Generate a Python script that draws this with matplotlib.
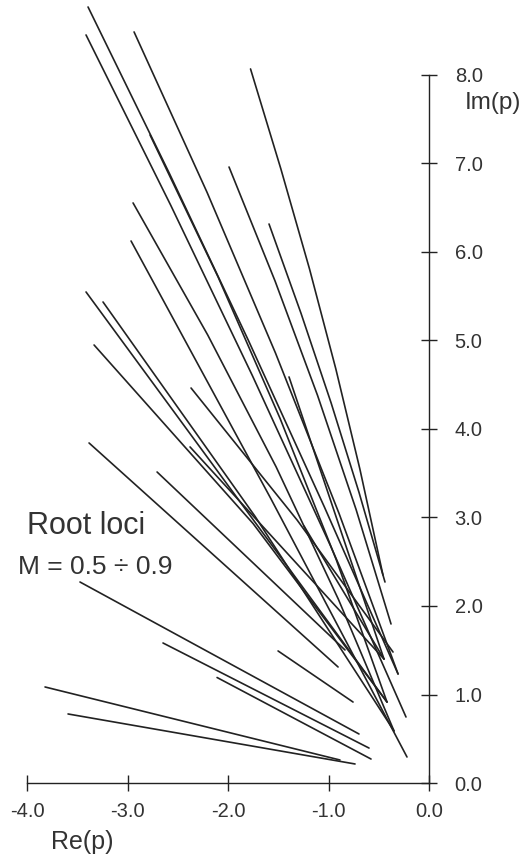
import matplotlib
matplotlib.use("Agg")
import matplotlib.pyplot as plt
import numpy as np

plt.rcParams['font.family'] = ['Liberation Sans', 'DejaVu Sans']

# Root loci traced as (Re, Im) points, one list per locus
re_loci = [
    [-1.776, -1.474, -1.189, -0.927, -0.688, -0.458],
    [-1.592, -1.273, -0.974, -0.696, -0.438],
    [-1.990, -1.531, -1.109, -0.725, -0.378],
    [-2.935, -2.208, -1.528, -0.895, -0.308],
    [-3.393, -2.582, -1.797, -1.040, -0.308],
    [-2.776, -2.100, -1.482, -0.921, -0.418],
    [-3.413, -2.569, -1.756, -0.977, -0.229],
    [-2.945, -2.202, -1.521, -0.903, -0.348],
    [-2.965, -1.572, -0.219],
    [-1.393, -0.448],
    [-1.244, -0.448],
    [-2.368, -1.313, -0.358],
    [-3.413, -0.418],
    [-3.244, -1.730, -0.348],
    [-3.333, -1.751, -0.418],
    [-2.378, -0.448],
    [-3.383, -0.905],
    [-2.706, -0.836],
    [-1.502, -0.756],
    [-3.473, -0.697],
    [-2.647, -0.597],
    [-2.109, -0.577],
    [-3.821, -0.886],
    [-3.592, -0.736],
]
im_loci = [
    [8.068, 6.938, 5.808, 4.678, 3.548, 2.350],
    [6.316, 5.305, 4.294, 3.282, 2.271],
    [6.960, 5.669, 4.379, 3.088, 1.797],
    [8.486, 6.672, 4.859, 3.045, 1.232],
    [8.768, 6.884, 5.000, 3.116, 1.232],
    [7.322, 5.720, 4.119, 2.517, 0.915],
    [8.452, 6.525, 4.599, 2.672, 0.746],
    [6.554, 5.062, 3.571, 2.079, 0.588],
    [6.124, 3.209, 0.294],
    [4.588, 1.401],
    [2.904, 1.401],
    [4.463, 2.972, 1.480],
    [5.548, 0.915],
    [5.435, 3.011, 0.588],
    [4.949, 2.932, 0.915],
    [3.797, 1.401],
    [3.842, 1.311],
    [3.514, 1.503],
    [1.492, 0.915],
    [2.271, 0.554],
    [1.582, 0.395],
    [1.192, 0.271],
    [1.085, 0.260],
    [0.780, 0.215],
]

x_ticks = [-4.0, -3.0, -2.0, -1.0, 0.0]
y_ticks = [0.0, 1.0, 2.0, 3.0, 4.0, 5.0, 6.0, 7.0, 8.0]

W, H = 524, 859
fig = plt.figure(figsize=(W / 100, H / 100), dpi=100)
ax = fig.add_axes([17 / W, (H - 800) / H, 433 / W, 800 / H])
ax.set_xlim(-4.1, 0.209)
ax.set_ylim(-0.192, 8.847)

col = '#222222'
for xs, ys in zip(re_loci, im_loci):
    ax.plot(xs, ys, color=col, lw=1.2, solid_capstyle='round',
            solid_joinstyle='round')

for s in ['top', 'left']:
    ax.spines[s].set_visible(False)
ax.spines['right'].set_position(('data', 0))
ax.spines['bottom'].set_position(('data', 0))
ax.spines['right'].set_bounds(0, 8)
ax.spines['bottom'].set_bounds(-4, 0)
for s in ['right', 'bottom']:
    ax.spines[s].set_color(col)
    ax.spines[s].set_linewidth(1.0)

ax.yaxis.tick_right()
ax.set_xticks(x_ticks)
ax.set_yticks(y_ticks)
ax.set_xticklabels([f"{v:.1f}" for v in x_ticks])
ax.set_yticklabels([f"{v:.1f}" for v in y_ticks])
ax.tick_params(axis='both', direction='inout', length=11, width=1.0,
               color=col, labelsize=14.5, labelcolor='#333333')
ax.tick_params(axis='x', pad=8)
ax.tick_params(axis='y', pad=13)
ax.patch.set_visible(False)

fig.text(82 / W, 1 - 842 / H, "Re(p)", fontsize=18, color='#333333',
         ha='center', va='center')
fig.text(493 / W, 1 - 103 / H, "Im(p)", fontsize=17.5, color='#333333',
         ha='center', va='center')
fig.text(86 / W, 1 - 526 / H, "Root loci", fontsize=22, color='#333333',
         ha='center', va='center')
fig.text(95 / W, 1 - 567 / H, "M = 0.5 \u00f7 0.9", fontsize=19, color='#333333',
         ha='center', va='center')

fig.savefig("out.png", dpi=100)
